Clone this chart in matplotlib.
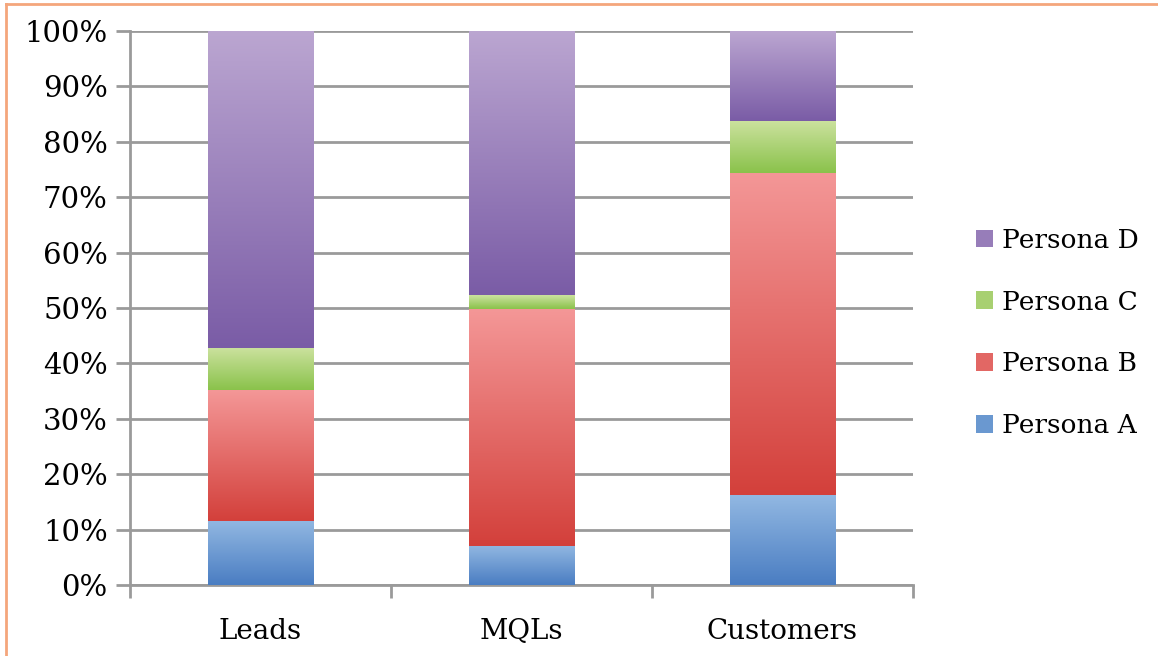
import numpy as np
import matplotlib
matplotlib.use("Agg")
import matplotlib.pyplot as plt
from matplotlib.colors import LinearSegmentedColormap
from matplotlib.patches import Patch
from matplotlib.lines import Line2D

# DATA (percent of each stage)
stages = ["Leads", "MQLs", "Customers"]
personas = ["Persona A", "Persona B", "Persona C", "Persona D"]
persona_a = [11.6, 7.1, 16.2]
persona_b = [23.6, 42.7, 58.2]
persona_c = [7.6, 2.5, 9.4]
persona_d = [57.2, 47.7, 16.2]
yticks = [0, 10, 20, 30, 40, 50, 60, 70, 80, 90, 100]

# gradient colours (top, bottom) for each persona
grads = [("#92b8e2", "#4a7dc2"),
         ("#f49797", "#d3403b"),
         ("#cce29f", "#8ac24b"),
         ("#bba6d1", "#7a5ca6")]

plt.rcParams['font.family'] = ['DejaVu Serif']

fig = plt.figure(figsize=(11.58, 6.56), dpi=100)
ax = fig.add_axes([130/1158, 1-585/656, (913-130)/1158, (585-31)/656])

x = np.arange(len(stages))
series = [persona_a, persona_b, persona_c, persona_d]
bottom = np.zeros(len(stages))
cmaps = []
for vals, (c_top, c_bot) in zip(series, grads):
    bars = ax.bar(x, vals, width=0.405, bottom=bottom, color="none",
                  edgecolor="none", zorder=3)
    cmap = LinearSegmentedColormap.from_list("g", [c_bot, c_top])
    cmaps.append(cmap)
    grad = np.linspace(0, 1, 256).reshape(-1, 1)
    for b in bars:
        x0, y0 = b.get_x(), b.get_y()
        ax.imshow(grad, cmap=cmap, origin="lower", aspect="auto",
                  extent=[x0, x0 + b.get_width(), y0, y0 + b.get_height()],
                  zorder=3, interpolation="bilinear")
    bottom += np.array(vals)

ax.set_xlim(-0.5, len(stages) - 0.5)
ax.set_ylim(0, 100)

# grid and axes
ax.set_yticks(yticks)
ax.set_yticklabels([f"{t}%" for t in yticks], fontsize=21)
ax.yaxis.grid(True, color="#9a9a9a", linewidth=2, zorder=0)
ax.set_axisbelow(True)
ax.set_xticks(x)
ax.set_xticklabels(stages, fontsize=20)
ax.set_xticks(np.arange(len(stages) + 1) - 0.5, minor=True)
ax.tick_params(axis="x", which="major", length=0, pad=24)
ax.tick_params(axis="x", which="minor", length=9, width=2, color="#9a9a9a")
ax.tick_params(axis="y", length=10, width=2, color="#9a9a9a", pad=6)
for s in ["top", "right"]:
    ax.spines[s].set_visible(False)
for s in ["left", "bottom"]:
    ax.spines[s].set_color("#9a9a9a")
    ax.spines[s].set_linewidth(2)

# legend (swatches use the mid tone of each gradient)
handles = [Patch(facecolor=cm(0.45), edgecolor="none") for cm in cmaps]
leg = fig.legend(handles[::-1], personas[::-1], loc="center left",
                 bbox_to_anchor=(952/1158, 1-333/656), frameon=False,
                 fontsize=19, handlelength=0.65, handleheight=0.65,
                 handletextpad=0.35, labelspacing=1.4)

# orange frame on top and left
fig.add_artist(Line2D([6/1158, 1], [1-4/656, 1-4/656], color="#f4a67c", lw=2))
fig.add_artist(Line2D([6/1158, 6/1158], [0, 1-4/656], color="#f4a67c", lw=2))

fig.savefig("out.png", dpi=100)
